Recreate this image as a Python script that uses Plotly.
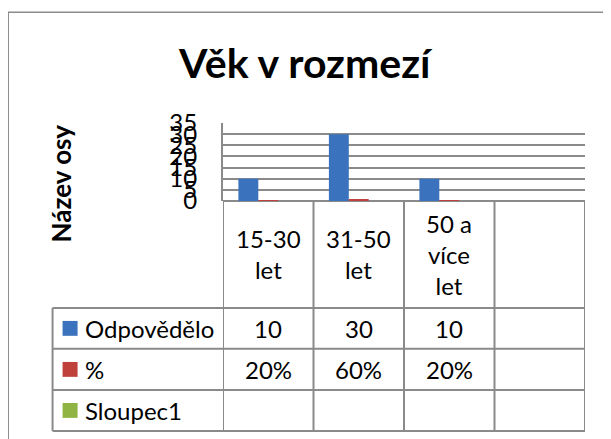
import plotly.graph_objects as go

# ---- data ----
categories = ["15-30<br>let", "31-50<br>let", "50 a<br>více<br>let", ""]
series_names = ["Odpovědělo", "%", "Sloupec1"]
odpovedelo = [10, 30, 10, None]
procenta = [0.20, 0.60, 0.20, None]
sloupec1 = [None, None, None, None]
y_ticks = [0, 5, 10, 15, 20, 25, 30, 35]

series_values = [odpovedelo, procenta, sloupec1]
series_colors = ["#3a72bd", "#c0403c", "#8fb443"]

# ---- layout geometry (pixels in the reference screenshot) ----
OFF = 8  # page body margin
FW, FH = 611, 439
L, R, T, B = 223.3, 585.0, 122.7, 201.3
W, H = R - L, B - T


def px(x):
    return (x - L) / W


def py(y):
    return (B - y) / H


FONT = "Lato"
GRID = "#8a8a8a"
TXT = 24

x_pos = list(range(len(categories)))

fig = go.Figure()
for name, vals, col in zip(series_names, series_values, series_colors):
    fig.add_trace(go.Bar(x=x_pos, y=vals, name=name, marker=dict(color=col, line=dict(width=0)),
                         showlegend=False))

shapes = []
annotations = []

# outer chart border (only top/left visible)
shapes.append(dict(type="rect", xref="paper", yref="paper", x0=px(8.7), x1=px(660), y0=py(11), y1=py(490),
                   line=dict(color="#8c8c8c", width=1.5), fillcolor="rgba(0,0,0,0)", layer="below"))

# table geometry
row_lines = [309.0, 350.3, 391.7, 433.0]
table_left = 53.0

# vertical column lines (through axis scale)
for i in range(len(categories) + 1):
    xv = i - 0.5
    shapes.append(dict(type="line", xref="x", yref="paper", x0=xv, x1=xv, y0=py(B), y1=py(row_lines[-1]),
                       line=dict(color=GRID, width=2)))
# horizontal row lines
for ry in row_lines:
    shapes.append(dict(type="line", xref="paper", yref="paper", x0=px(table_left), x1=1, y0=py(ry), y1=py(ry),
                       line=dict(color=GRID, width=2)))
# table left line
shapes.append(dict(type="line", xref="paper", yref="paper", x0=px(table_left), x1=px(table_left),
                   y0=py(row_lines[0]), y1=py(row_lines[-1]), line=dict(color=GRID, width=2)))

# header labels
for i, c in enumerate(categories):
    if c:
        annotations.append(dict(x=i, y=py((B + row_lines[0]) / 2), xref="x", yref="paper", text=c,
                                showarrow=False, font=dict(family=FONT, size=TXT, color="#000"),
                                xanchor="center", yanchor="middle", align="center"))

# rows
for r, (name, vals, col) in enumerate(zip(series_names, series_values, series_colors)):
    top, bot = row_lines[r], row_lines[r + 1]
    cy = (top + bot) / 2
    # legend key
    shapes.append(dict(type="rect", xref="paper", yref="paper", x0=px(63), x1=px(78), y0=py(cy - 7.5),
                       y1=py(cy + 7.5), line=dict(width=0), fillcolor=col))
    annotations.append(dict(x=px(83), y=py(cy), xref="paper", yref="paper", text=name, showarrow=False,
                            font=dict(family=FONT, size=TXT, color="#000"), xanchor="left", yanchor="middle"))
    for i, v in enumerate(vals):
        if v is None:
            continue
        txt = f"{round(v * 100)}%" if name == "%" else f"{v}"
        annotations.append(dict(x=i, y=py(cy), xref="x", yref="paper", text=txt, showarrow=False,
                                font=dict(family=FONT, size=TXT, color="#000"), xanchor="center",
                                yanchor="middle"))

# title
annotations.append(dict(x=px(306), y=py(62), xref="paper", yref="paper", text="<b>Věk v rozmezí</b>",
                        showarrow=False, font=dict(family=FONT, size=41, color="#000"),
                        xanchor="center", yanchor="middle"))
# y axis title
annotations.append(dict(x=px(61), y=py(184), xref="paper", yref="paper", text="<b>Název osy</b>",
                        showarrow=False, textangle=-90, font=dict(family=FONT, size=26, color="#000"),
                        xanchor="center", yanchor="middle"))

fig.update_layout(
    width=FW, height=FH,
    margin=dict(l=L - OFF, r=FW - (R - OFF), t=T - OFF, b=FH - (B - OFF), pad=0),
    paper_bgcolor="white", plot_bgcolor="white",
    barmode="group", bargap=0.34, bargroupgap=0,
    shapes=shapes, annotations=annotations,
    xaxis=dict(range=[-0.5, len(categories) - 0.5], showticklabels=False, showgrid=False, zeroline=False,
               showline=False, ticks=""),
    yaxis=dict(range=[0, 35], tickvals=y_ticks, showgrid=True, gridcolor=GRID, gridwidth=2,
               zeroline=True, zerolinecolor=GRID, zerolinewidth=2, showline=True, linecolor=GRID, linewidth=2,
               ticks="", ticklabelstandoff=19,
               tickfont=dict(family=FONT, size=TXT, color="#000")),
    font=dict(family=FONT),
)

fig.write_html("out.html")
